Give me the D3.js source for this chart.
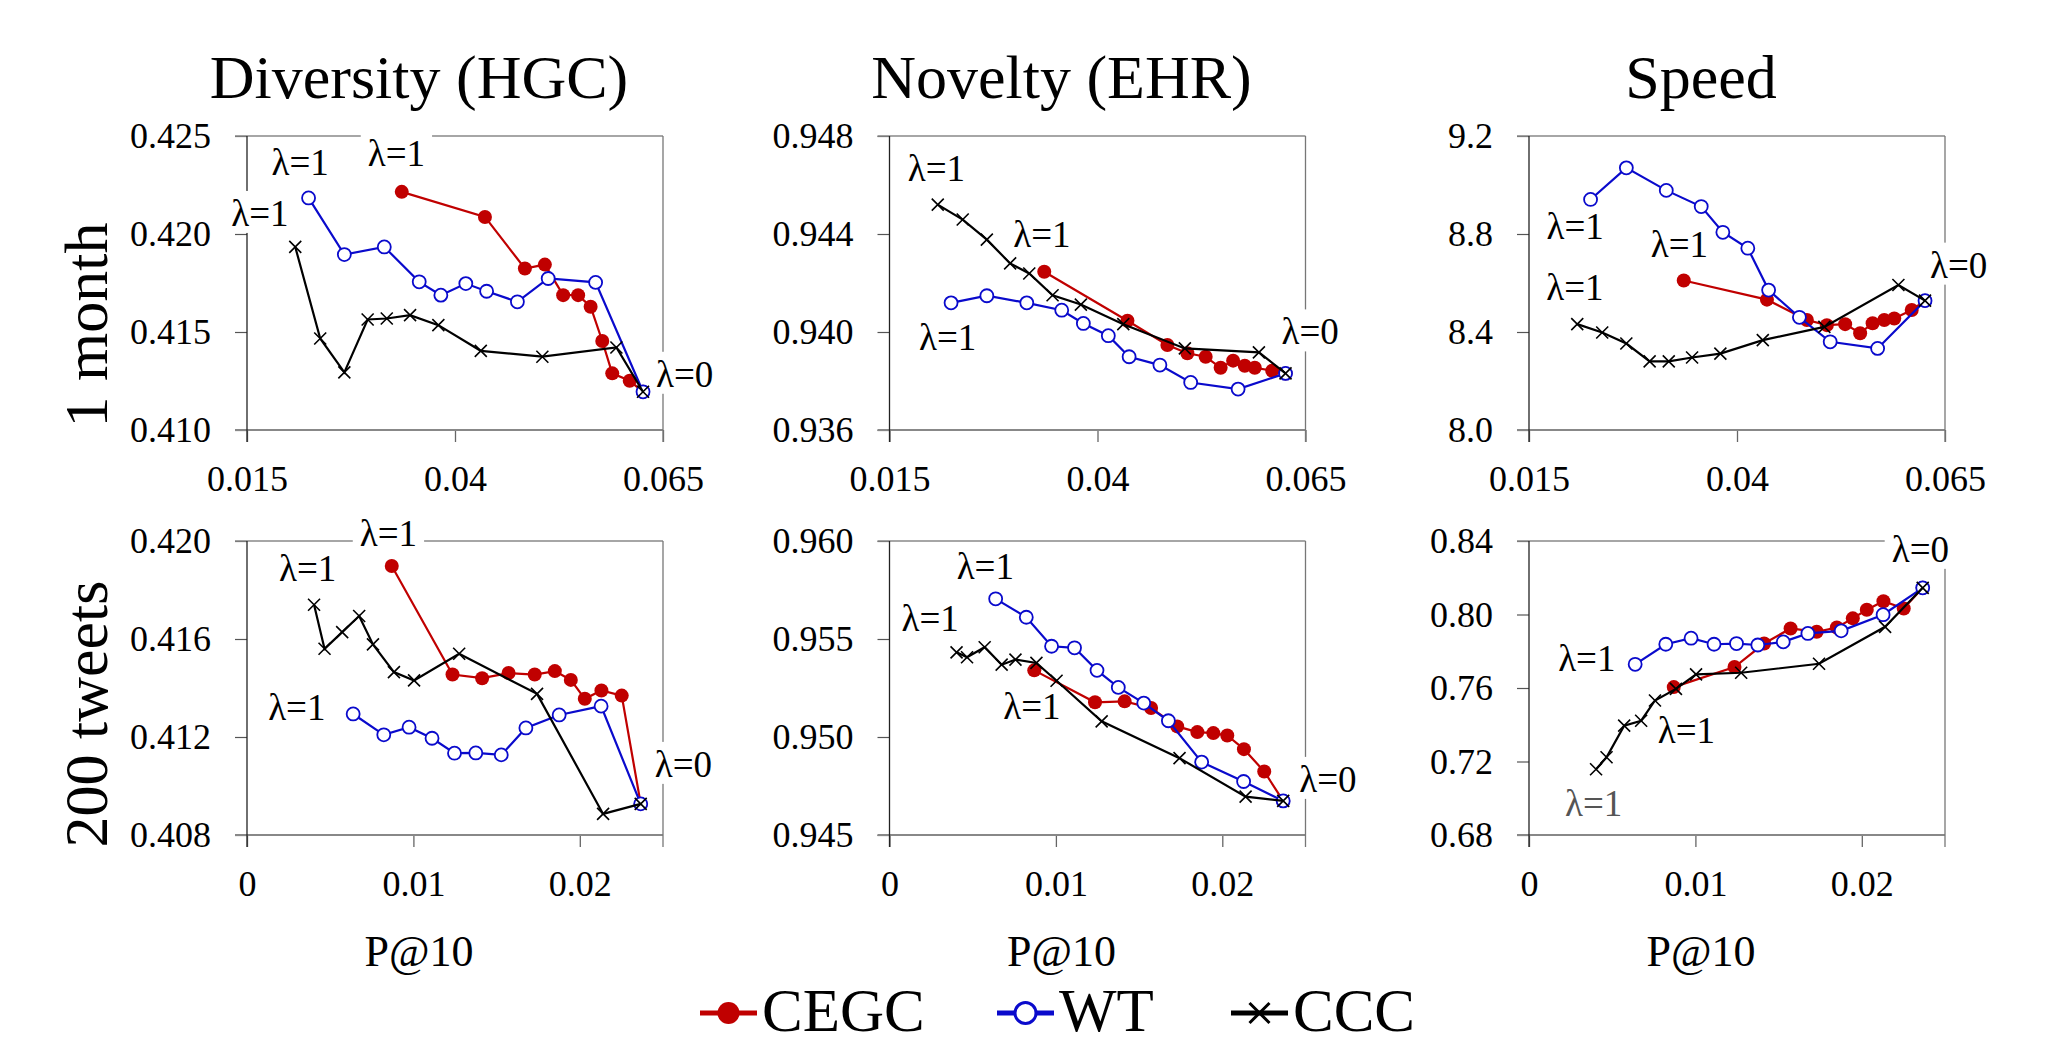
<!DOCTYPE html>
<html>
<head>
<meta charset="utf-8">
<script src="https://cdn.jsdelivr.net/npm/d3@7"></script>
<style>
body { margin: 0; background: #fff; }
svg { display: block; }
text { font-family: "Liberation Serif", "Times New Roman", serif; fill: #000; }
</style>
</head>
<body>
<svg id="chart" width="2059" height="1045"></svg>
<script>
// each series runs from lambda=1 (first) to lambda=0 (last)

// P@10, 1 month
var monthP_CEGC = [0.0336, 0.0436, 0.0484, 0.0508, 0.0530, 0.0548, 0.0563, 0.0577, 0.0589, 0.0610, 0.0626];
var monthP_WT   = [0.0224, 0.0267, 0.0315, 0.0357, 0.0383, 0.0413, 0.0438, 0.0475, 0.0512, 0.0569, 0.0626];
var monthP_CCC  = [0.0208, 0.0238, 0.0267, 0.0295, 0.0318, 0.0346, 0.0380, 0.0431, 0.0505, 0.0594, 0.0626];

// P@10, 200 tweets
var tweetsP_CEGC = [0.0087, 0.01235, 0.01413, 0.01572, 0.01729, 0.0185, 0.01946, 0.0203, 0.0213, 0.02252, 0.02366];
var tweetsP_WT   = [0.00638, 0.00822, 0.00974, 0.01112, 0.01247, 0.01375, 0.01528, 0.01676, 0.01876, 0.02128, 0.02366];
var tweetsP_CCC  = [0.00403, 0.00466, 0.00572, 0.00674, 0.00757, 0.00883, 0.01004, 0.01275, 0.01743, 0.0214, 0.02366];

// Diversity (HGC)
var monthHGC_CEGC = [0.42215, 0.42087, 0.41824, 0.41844, 0.41688, 0.41688, 0.41629, 0.41454, 0.41289, 0.41251, 0.41195];
var monthHGC_WT   = [0.42184, 0.41895, 0.41934, 0.41756, 0.41688, 0.41747, 0.41708, 0.41654, 0.41773, 0.41753, 0.41195];
var monthHGC_CCC  = [0.41934, 0.41467, 0.41294, 0.41564, 0.41569, 0.41586, 0.41535, 0.41404, 0.41374, 0.41421, 0.41195];
var tweetsHGC_CEGC = [0.41898, 0.41455, 0.4144, 0.41461, 0.41455, 0.41469, 0.41433, 0.41356, 0.4139, 0.41369, 0.40927];
var tweetsHGC_WT   = [0.41294, 0.41209, 0.4124, 0.41195, 0.41134, 0.41135, 0.41127, 0.41237, 0.4129, 0.41326, 0.40927];
var tweetsHGC_CCC  = [0.4174, 0.4156, 0.41628, 0.41694, 0.41578, 0.41465, 0.41431, 0.4154, 0.41376, 0.40886, 0.40927];

// Novelty (EHR)
var monthEHR_CEGC = [0.94246, 0.94046, 0.93947, 0.93913, 0.93899, 0.93854, 0.93883, 0.93862, 0.93854, 0.93842, 0.93831];
var monthEHR_WT   = [0.94119, 0.94148, 0.94119, 0.94089, 0.94035, 0.93985, 0.93899, 0.93865, 0.93794, 0.93767, 0.93831];
var monthEHR_CCC  = [0.9452, 0.94459, 0.94377, 0.9428, 0.94239, 0.9415, 0.94112, 0.94032, 0.93933, 0.93917, 0.93831];
var tweetsEHR_CEGC = [0.9534, 0.95177, 0.95182, 0.95148, 0.95054, 0.95025, 0.9502, 0.95008, 0.94938, 0.94824, 0.94674];
var tweetsEHR_WT   = [0.95705, 0.95611, 0.95463, 0.95455, 0.9534, 0.95253, 0.95173, 0.95083, 0.94872, 0.94773, 0.94674];
var tweetsEHR_CCC  = [0.95432, 0.95407, 0.95458, 0.95369, 0.95395, 0.95378, 0.95287, 0.9508, 0.94892, 0.94696, 0.94674];

// Speed
var monthSpeed_CEGC = [8.610, 8.532, 8.449, 8.428, 8.432, 8.395, 8.436, 8.449, 8.455, 8.490, 8.528];
var monthSpeed_WT   = [8.941, 9.070, 8.978, 8.912, 8.807, 8.742, 8.571, 8.460, 8.360, 8.333, 8.528];
var monthSpeed_CCC  = [8.432, 8.398, 8.353, 8.280, 8.280, 8.296, 8.312, 8.367, 8.421, 8.592, 8.528];
var tweetsSpeed_CEGC = [0.7605, 0.7714, 0.7842, 0.7924, 0.7906, 0.7929, 0.7979, 0.8026, 0.8072, 0.8033, 0.8145];
var tweetsSpeed_WT   = [0.7729, 0.7838, 0.7871, 0.7838, 0.7842, 0.7834, 0.7851, 0.7897, 0.7911, 0.7999, 0.8145];
var tweetsSpeed_CCC  = [0.7158, 0.7223, 0.7395, 0.7422, 0.7532, 0.7595, 0.7674, 0.7683, 0.7732, 0.7933, 0.8145];

var columnTitles = ["Diversity (HGC)", "Novelty (EHR)", "Speed"];
var rowTitles = ["1 month", "200 tweets"];
var methods = ["CEGC", "WT", "CCC"];

var monthXTicks = [0.015, 0.04, 0.065];
var monthXLabels = ["0.015", "0.04", "0.065"];
var tweetsXTicks = [0, 0.01, 0.02];
var tweetsXLabels = ["0", "0.01", "0.02"];

var yTicksHGCmonth = [0.410, 0.415, 0.420, 0.425];
var yTicksEHRmonth = [0.936, 0.940, 0.944, 0.948];
var yTicksSpeedmonth = [8.0, 8.4, 8.8, 9.2];
var yTicksHGCtweets = [0.408, 0.412, 0.416, 0.420];
var yTicksEHRtweets = [0.945, 0.950, 0.955, 0.960];
var yTicksSpeedtweets = [0.68, 0.72, 0.76, 0.80, 0.84];

// layout
var FONT = '"Liberation Serif", "Times New Roman", serif';
var colLeft = [247, 889.5, 1529];
var rowTop = [136, 541];
var pw = 416, ph = 294;

var color = { CEGC: "#c00000", WT: "#0a0acc", CCC: "#000" };

var rows = [
  { title: rowTitles[0], labelY: 325, xDomain: [0.015, 0.065], xTicks: monthXTicks, xLabels: monthXLabels,
    P: { CEGC: monthP_CEGC, WT: monthP_WT, CCC: monthP_CCC } },
  { title: rowTitles[1], labelY: 714, xDomain: [0, 0.025], xTicks: tweetsXTicks, xLabels: tweetsXLabels,
    P: { CEGC: tweetsP_CEGC, WT: tweetsP_WT, CCC: tweetsP_CCC } }
];

var panels = [
  { row: 0, col: 0, yDomain: [0.410, 0.425], yTicks: yTicksHGCmonth, fmt: ".3f",
    vals: { CEGC: monthHGC_CEGC, WT: monthHGC_WT, CCC: monthHGC_CCC },
    labels: [["WT", 0, -37, -23], ["CEGC", 0, -34, -26], ["CCC", 0, -64, -21], ["CCC", 1, 13, -5]] },
  { row: 0, col: 1, yDomain: [0.936, 0.948], yTicks: yTicksEHRmonth, fmt: ".3f",
    vals: { CEGC: monthEHR_CEGC, WT: monthEHR_WT, CCC: monthEHR_CCC },
    labels: [["CCC", 0, -30, -24], ["CEGC", 0, -31, -25], ["WT", 0, -32, 47], ["CCC", 1, -4, -29]] },
  { row: 0, col: 2, yDomain: [8.0, 9.2], yTicks: yTicksSpeedmonth, fmt: ".1f",
    vals: { CEGC: monthSpeed_CEGC, WT: monthSpeed_WT, CCC: monthSpeed_CCC },
    labels: [["WT", 0, -44, 40], ["CEGC", 0, -33, -24], ["CCC", 0, -31, -24], ["CCC", 1, 5, -23]] },
  { row: 1, col: 0, yDomain: [0.408, 0.420], yTicks: yTicksHGCtweets, fmt: ".3f",
    vals: { CEGC: tweetsHGC_CEGC, WT: tweetsHGC_WT, CCC: tweetsHGC_CCC },
    labels: [["CEGC", 0, -32, -20], ["CCC", 0, -35, -24], ["WT", 0, -85, 6], ["CCC", 1, 14, -27]] },
  { row: 1, col: 1, yDomain: [0.945, 0.960], yTicks: yTicksEHRtweets, fmt: ".3f",
    vals: { CEGC: tweetsEHR_CEGC, WT: tweetsEHR_WT, CCC: tweetsEHR_CCC },
    labels: [["WT", 0, -39, -20], ["CCC", 0, -55, -21], ["CEGC", 0, -31, 49], ["CCC", 1, 16, -9]] },
  { row: 1, col: 2, yDomain: [0.68, 0.84], yTicks: yTicksSpeedtweets, fmt: ".2f",
    vals: { CEGC: tweetsSpeed_CEGC, WT: tweetsSpeed_WT, CCC: tweetsSpeed_CCC },
    labels: [["CCC", 1, -31, -26], ["WT", 0, -77, 7], ["CEGC", 0, -16, 56], ["CCC", 0, -31, 47, "#555"]] }
];

var svg = d3.select("#chart");
svg.append("rect").attr("width", 2059).attr("height", 1045).attr("fill", "#fff");

function drawMarker(g, m, cx, cy, r) {
  if (m === "CEGC") {
    g.append("circle").attr("cx", cx).attr("cy", cy).attr("r", r).attr("fill", color.CEGC);
  } else if (m === "WT") {
    g.append("circle").attr("cx", cx).attr("cy", cy).attr("r", r - 0.5)
      .attr("fill", "#fff").attr("stroke", color.WT).attr("stroke-width", r > 8 ? 3 : 1.8);
  } else {
    var s = r - 1;
    g.append("path").attr("d", "M" + (cx - s) + "," + (cy - s) + "L" + (cx + s) + "," + (cy + s) +
      "M" + (cx - s) + "," + (cy + s) + "L" + (cx + s) + "," + (cy - s))
      .attr("stroke", "#000").attr("stroke-width", r > 8 ? 3 : 1.6).attr("fill", "none");
  }
}

panels.forEach(function (p) {
  var row = rows[p.row];
  var left = colLeft[p.col], top = rowTop[p.row];
  var g = svg.append("g").attr("transform", "translate(" + left + "," + top + ")");

  var x = d3.scaleLinear().domain(row.xDomain).range([0, pw]);
  var y = d3.scaleLinear().domain(p.yDomain).range([ph, 0]);

  // y axis ticks + labels
  var ya = g.append("g").call(d3.axisLeft(y).tickValues(p.yTicks).tickSize(12).tickPadding(24)
    .tickFormat(d3.format(p.fmt)));
  ya.select(".domain").remove();
  ya.selectAll("line").attr("stroke", "#555").attr("stroke-width", 1.2);
  ya.selectAll("text").style("font-family", FONT).style("font-size", "36px").style("fill", "#000");

  // x axis ticks + labels
  var xa = g.append("g").attr("transform", "translate(0," + ph + ")")
    .call(d3.axisBottom(x).tickValues(row.xTicks).tickSize(12).tickPadding(23)
      .tickFormat(function (d, i) { return row.xLabels[i]; }));
  xa.select(".domain").remove();
  xa.selectAll("line").attr("stroke", "#666").attr("stroke-width", 1.3);
  xa.selectAll("text").style("font-family", FONT).style("font-size", "36px").style("fill", "#000");

  // frame
  g.append("line").attr("x1", -12).attr("x2", pw).attr("y1", 0).attr("y2", 0)
    .attr("stroke", "#888").attr("stroke-width", 1.6);
  g.append("line").attr("x1", -12).attr("x2", pw).attr("y1", ph).attr("y2", ph)
    .attr("stroke", "#888").attr("stroke-width", 2.2);
  g.append("line").attr("x1", 0).attr("x2", 0).attr("y1", 0).attr("y2", ph + 12)
    .attr("stroke", "#222").attr("stroke-width", 1.3);
  g.append("line").attr("x1", pw).attr("x2", pw).attr("y1", 0).attr("y2", ph + 12)
    .attr("stroke", "#777").attr("stroke-width", 1.3);

  // lambda labels with white boxes (these cut the frame like in the original)
  p.labels.forEach(function (l) {
    var vals = p.vals[l[0]], px = row.P[l[0]];
    var i = l[1] === 0 ? 0 : vals.length - 1;
    var tx = x(px[i]) + l[2], ty = y(vals[i]) + l[3];
    var bg = g.append("rect").attr("fill", "#fff");
    var t = g.append("text").attr("x", tx).attr("y", ty)
      .style("font-family", FONT).style("font-size", "37px")
      .style("fill", l[4] || "#000")
      .text(l[1] === 0 ? "λ=1" : "λ=0");
    var w = t.node().getComputedTextLength();
    bg.attr("x", tx - 7).attr("y", ty - 35).attr("width", w + 14).attr("height", 42);
  });

  // series
  methods.forEach(function (m) {
    var vals = p.vals[m], px = row.P[m];
    var pts = vals.map(function (v, i) { return [x(px[i]), y(v)]; });
    g.append("path").attr("d", d3.line()(pts)).attr("fill", "none")
      .attr("stroke", color[m]).attr("stroke-width", 2.2);
    var mg = g.append("g");
    pts.forEach(function (pt) { drawMarker(mg, m, pt[0], pt[1], 7); });
  });

  if (p.row === 0) {
    svg.append("text").attr("x", left + pw / 2 - 36).attr("y", 98)
      .attr("text-anchor", "middle").style("font-family", FONT).style("font-size", "62px")
      .text(columnTitles[p.col]);
  }
  if (p.row === 1) {
    svg.append("text").attr("x", left + pw / 2 - 36).attr("y", 966)
      .attr("text-anchor", "middle").style("font-family", FONT).style("font-size", "44px")
      .text("P@10");
  }
});

rows.forEach(function (r) {
  svg.append("text").attr("transform", "translate(107," + r.labelY + ") rotate(-90)")
    .attr("text-anchor", "middle").style("font-family", FONT).style("font-size", "62px")
    .text(r.title);
});

// legend (kept just above the bottom edge so the glyph box fits)
var legendX = [700, 997, 1231];
var legend = svg.append("g");
methods.forEach(function (m, i) {
  var lx = legendX[i], ly = 1013;
  legend.append("line").attr("x1", lx).attr("x2", lx + 57).attr("y1", ly).attr("y2", ly)
    .attr("stroke", color[m]).attr("stroke-width", 5);
  drawMarker(legend, m, lx + 28.5, ly, 11);
  legend.append("text").attr("x", lx + 62).attr("y", 1031)
    .style("font-family", FONT).style("font-size", "61px").text(m);
});
</script>
</body>
</html>
